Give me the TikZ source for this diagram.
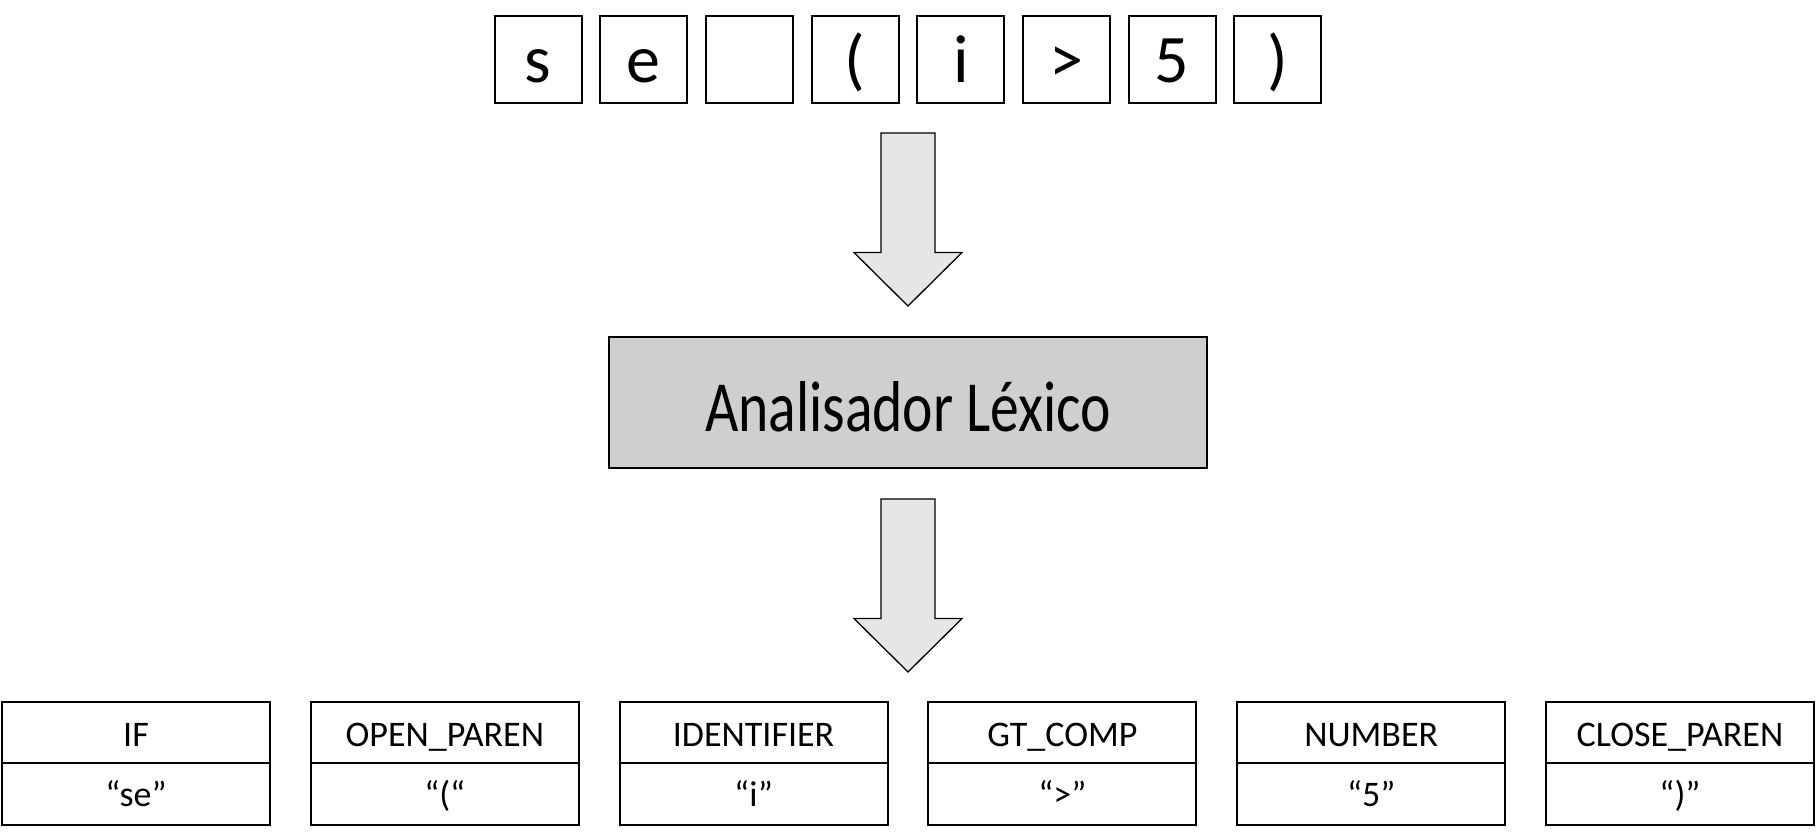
\documentclass[tikz,border=0pt]{standalone}
\usepackage{fontspec}
\setmainfont{Carlito}
\newfontfamily\narrowfont{Carlito}[FakeStretch=0.8]
\usetikzlibrary{positioning}

\definecolor{lexgray}{HTML}{D0CECE}
\definecolor{arrowgray}{HTML}{E6E6E6}

\tikzset{
	charbox/.style={draw, line width=2pt, minimum size=87pt, inner sep=0pt, outer sep=0pt,
		font=\fontsize{68}{68}\selectfont, text height=45pt, text depth=0pt},
	lexbox/.style={draw, line width=2pt, fill=lexgray, minimum width=598pt, minimum height=131pt,
		inner sep=0pt, outer sep=0pt, font=\narrowfont\fontsize{72}{72}\selectfont, text height=58pt, text depth=0pt},
	tokcell/.style={draw, line width=2pt, minimum width=268pt, minimum height=61pt, inner sep=0pt, outer sep=0pt,
		font=\fontsize{36}{36}\selectfont, text height=28pt, text depth=0pt},
	lexcell/.style={tokcell, minimum height=61.5pt, text height=25pt},
	blockarrow/.style={draw, line width=1.3pt, fill=arrowgray, line join=miter}
}

% big hollow arrow pointing down, #1 = top middle of the shaft
\newcommand{\blockarrow}[1]{%
	\draw[blockarrow, shift={#1}] (-27,0) -- (27,0) -- (27,119.5) -- (54,119.5)
		-- (0,173) -- (-54,119.5) -- (-27,119.5) -- cycle;}

\begin{document}
\begin{tikzpicture}[x=1pt, y=-1pt]
	\useasboundingbox (0,0) rectangle (1816,840);

	% input characters
	\foreach \ch [count=\i] in {s,e,{},{(},i,>,5,{)}}
		\node[charbox] (c\i) at ({538+105.7*(\i-1)},60) {\ch};

	\blockarrow{(908,133)}

	\node[lexbox] (lexer) at (908,402.5) {Analisador Léxico};

	\blockarrow{(908,499)}

	% tokens
	\foreach \tok/\lex [count=\i] in {IF/{“se”}, OPEN\_PAREN/{“(“}, IDENTIFIER/{“i”},
			GT\_COMP/{“>”}, NUMBER/{“5”}, CLOSE\_PAREN/{“)”}} {
		\node[tokcell] (tok\i) at ({136+308.8*(\i-1)},732.5) {\tok};
		\node[lexcell, below=0pt of tok\i] (lex\i) {\lex};
	}
\end{tikzpicture}
\end{document}
